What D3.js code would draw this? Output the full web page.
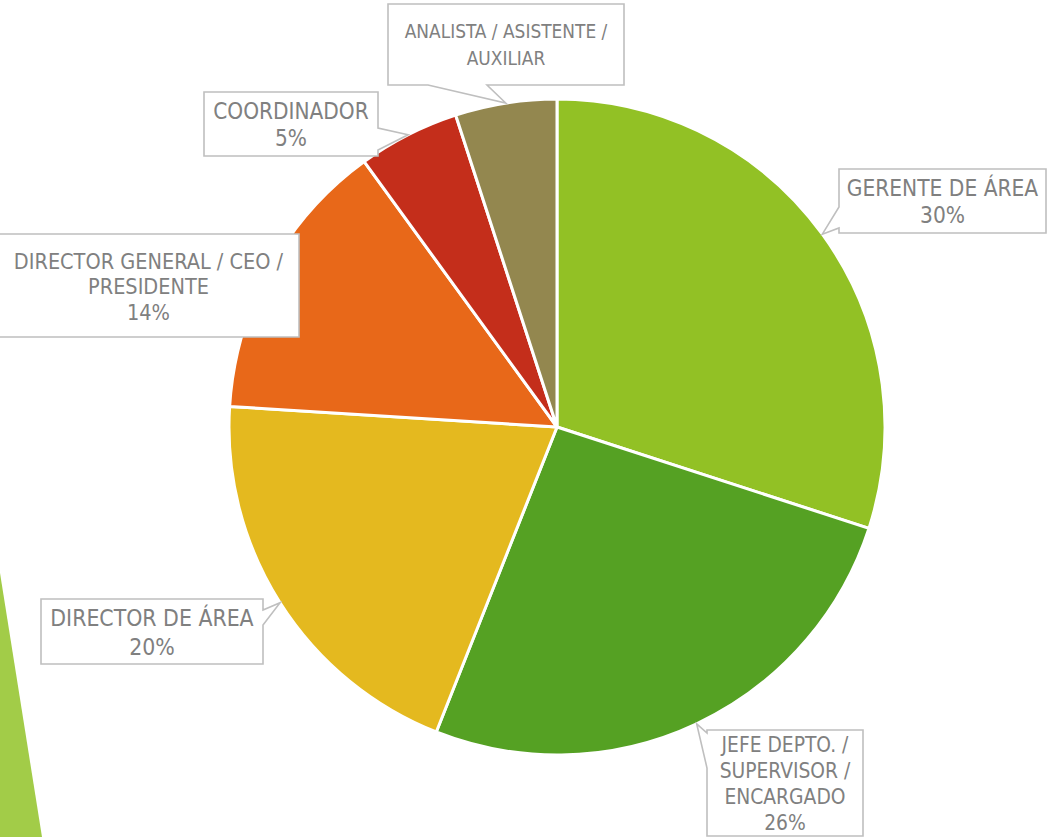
<!DOCTYPE html>
<html>
<head>
<meta charset="utf-8">
<script src="https://cdn.jsdelivr.net/npm/d3@7"></script>
<style>
  body { margin: 0; background: #fff; }
  svg { display: block; }
</style>
</head>
<body>
<div id="chart"></div>
<script>
var width = 1049;
var height = 837;

// data
var categories = ['GERENTE DE ÁREA', 'JEFE DEPTO. / SUPERVISOR / ENCARGADO', 'DIRECTOR DE ÁREA',
                  'DIRECTOR GENERAL / CEO / PRESIDENTE', 'COORDINADOR', 'ANALISTA / ASISTENTE / AUXILIAR'];
var values = [30, 26, 20, 14, 5, 5];
var labelLines = [
  ['GERENTE DE ÁREA'],
  ['JEFE DEPTO. /', 'SUPERVISOR /', 'ENCARGADO'],
  ['DIRECTOR DE ÁREA'],
  ['DIRECTOR GENERAL / CEO /', 'PRESIDENTE'],
  ['COORDINADOR'],
  ['ANALISTA / ASISTENTE /', 'AUXILIAR']
];
var showPercent = [true, true, true, true, true, false];
var colors = ['#92c125', '#55a123', '#e4b91f', '#e86819', '#c42e1b', '#93874f'];

// callout layout: box, font, line height, pointer side + base
var callouts = [
  {x0: 839, y0: 169, x1: 1046, y1: 233, fs: 22.5, lh: 27, top: 188, side: 'left', b0: 207, b1: 228},
  {x0: 707, y0: 730, x1: 863, y1: 836, fs: 20.8, lh: 25.7, top: 745, side: 'left', b0: 733, b1: 768},
  {x0: 41, y0: 599, x1: 263, y1: 664, fs: 22.8, lh: 29, top: 618, side: 'right', b0: 610, b1: 625},
  {x0: -2, y0: 234, x1: 299, y1: 337, fs: 21.5, lh: 25.5, top: 261, side: null},
  {x0: 204, y0: 92, x1: 378, y1: 156, fs: 22.4, lh: 27, top: 111, side: 'right', b0: 128, b1: 150},
  {x0: 388, y0: 4, x1: 624, y1: 85, fs: 18.9, lh: 27, top: 31, side: 'bottom', b0: 428, b1: 487}
];

var cx = 557, cy = 427, radius = 328;

var svg = d3.select('#chart').append('svg')
    .attr('width', width)
    .attr('height', height);

// decorative slide stripe at bottom left
svg.append('path')
    .attr('d', 'M0,573 L42,837 L0,837 Z')
    .attr('fill', '#a2cc48');

var pie = d3.pie().sort(null).value(function (d) { return d; });
var arcs = pie(values);
var arc = d3.arc().innerRadius(0).outerRadius(radius);
var rimArc = d3.arc().innerRadius(radius).outerRadius(radius);

var g = svg.append('g').attr('transform', 'translate(' + cx + ',' + cy + ')');

g.selectAll('path.slice')
    .data(arcs)
    .enter().append('path')
    .attr('class', 'slice')
    .attr('d', arc)
    .attr('fill', function (d, i) { return colors[i]; })
    .attr('stroke', '#fff')
    .attr('stroke-width', 3)
    .attr('stroke-linejoin', 'round');

function calloutPath(c, tip) {
  var p = [];
  p.push([c.x0, c.y0]);
  p.push([c.x1, c.y0]);
  if (c.side === 'right') { p.push([c.x1, c.b0]); p.push(tip); p.push([c.x1, c.b1]); }
  p.push([c.x1, c.y1]);
  if (c.side === 'bottom') { p.push([c.b1, c.y1]); p.push(tip); p.push([c.b0, c.y1]); }
  p.push([c.x0, c.y1]);
  if (c.side === 'left') { p.push([c.x0, c.b1]); p.push(tip); p.push([c.x0, c.b0]); }
  return 'M' + p.map(function (q) { return q[0] + ',' + q[1]; }).join('L') + 'Z';
}

var labels = svg.append('g');

arcs.forEach(function (d, i) {
  var c = callouts[i];
  var rim = rimArc.centroid(d);
  var tip = [cx + rim[0], cy + rim[1]];
  labels.append('path')
      .attr('d', calloutPath(c, tip))
      .attr('fill', '#fff')
      .attr('stroke', '#bfbfbf')
      .attr('stroke-width', 1.6);
  var lines = labelLines[i].slice();
  if (showPercent[i]) lines.push(d.data + '%');
  var t = labels.append('text')
      .attr('text-anchor', 'middle')
      .style('font-family', "'DejaVu Sans Condensed', 'DejaVu Sans', sans-serif")
      .style('font-stretch', 'condensed')
      .style('font-size', c.fs + 'px')
      .style('fill', '#808080');
  lines.forEach(function (s, k) {
    t.append('tspan')
        .attr('x', (c.x0 + c.x1) / 2)
        .attr('y', c.top + k * c.lh)
        .attr('dy', '0.36em')
        .text(s);
  });
});
</script>
</body>
</html>
